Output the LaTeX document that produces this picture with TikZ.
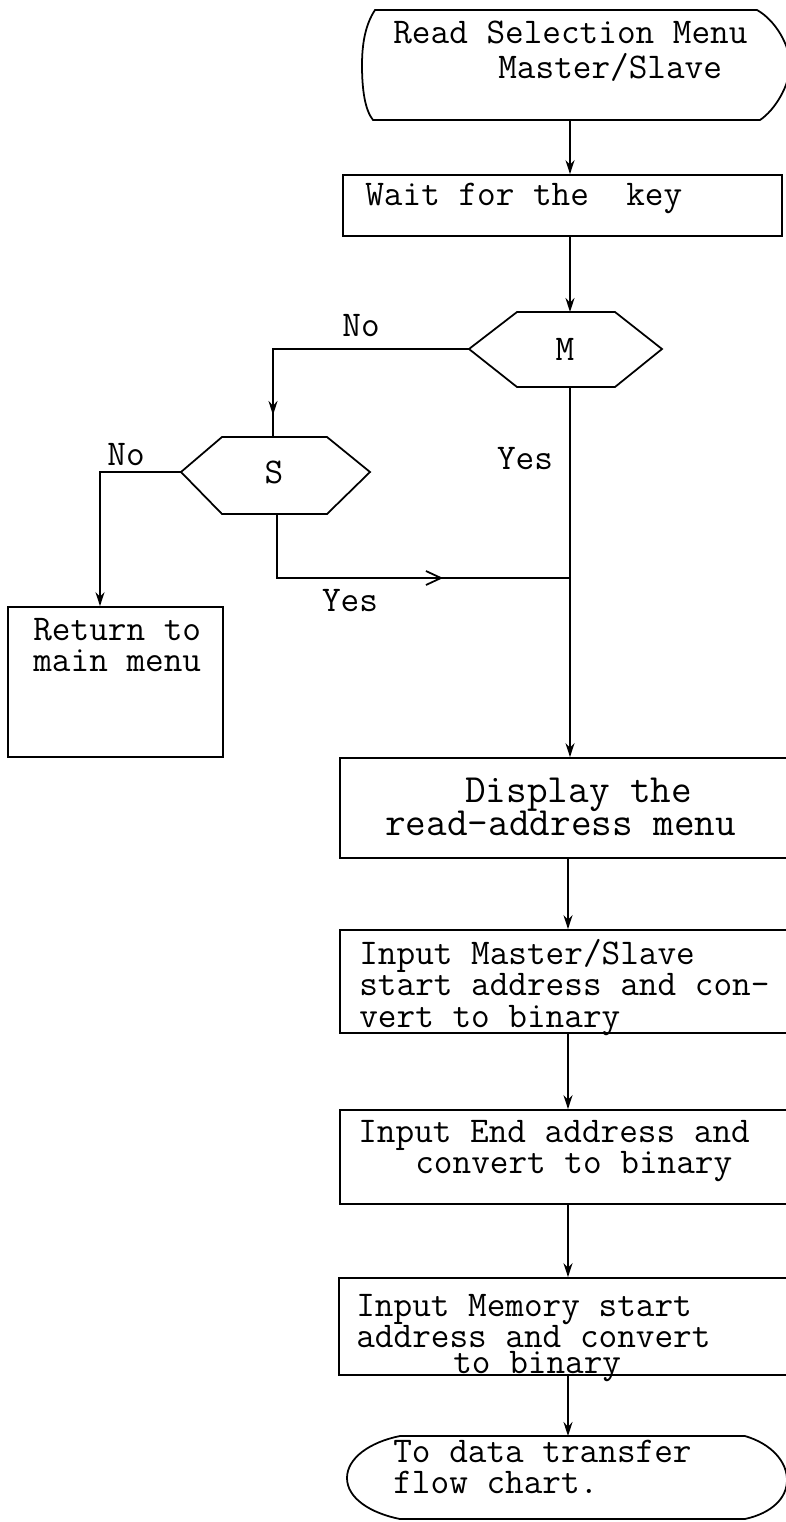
\documentclass[tikz,border=0pt]{standalone}
\usetikzlibrary{arrows.meta,fit,decorations.markings}
\tikzset{
  line/.style={line width=1pt},
  arr/.style={line width=1pt,-{Stealth[length=0.28cm,width=0.18cm]}},
  box/.style={draw,line width=1pt,inner sep=0pt},
  txt/.style={anchor=base west,inner sep=0pt,font=\ttfamily\fontsize{20.6}{17.6}\selectfont},
  lbl/.style={inner sep=0pt,font=\ttfamily\fontsize{20.6}{20.6}\selectfont},
  markdown/.style={postaction={decorate},decoration={markings,
      mark=at position #1 with {\arrow{Stealth[length=0.28cm,width=0.18cm]}}}},
  markright/.style={postaction={decorate},decoration={markings,
      mark=at position #1 with {\arrow{Straight Barb[length=0.3cm,width=0.28cm]}}}}
}
\newcommand\linesA[1]{\begin{tabular}[t]{@{}l@{}}#1\end{tabular}}
\begin{document}
\begin{tikzpicture}[x=0.02cm,y=-0.02cm]
\useasboundingbox (0,0) rectangle (785,1522);
\fill[white] (0,0) rectangle (785,1522);
% top terminal
\draw[line] (375,10) -- (757,10) .. controls (775,20) and (790,45) .. (790,65)
  .. controls (790,85) and (775,110) .. (760,120) -- (373,120)
  .. controls (365,110) and (362,90) .. (362,65)
  .. controls (362,45) and (365,25) .. (375,10) -- cycle;
\coordinate (topb) at (570,120);
\node[txt,font=\ttfamily\fontsize{20.6}{19.9}\selectfont] (t1) at (393,43)
  {\linesA{Read Selection Menu\\ \hspace*{2.1cm}Master/Slave}};
% wait box
\node[box,fit={(343,175) (782,236)}] (wait) {};
\node[txt] (w1) at (365,205) {Wait for the\ \ key};
\coordinate (col) at (570,0);
% M hexagon
\coordinate (Mw) at (469,349);
\coordinate (Mnw) at (517,312);
\coordinate (Mne) at (615,312);
\coordinate (Me) at (662,349);
\coordinate (Mse) at (615,387);
\coordinate (Msw) at (517,387);
\coordinate (Mt) at (570,312);
\coordinate (Mb) at (570,387);
\draw[line] (Mw) -- (Mnw) -- (Mne) -- (Me) -- (Mse) -- (Msw) -- cycle;
\node[lbl] (M) at (565,349) {M};
% S hexagon
\coordinate (Sw) at (181,472);
\coordinate (Snw) at (222,437);
\coordinate (Sne) at (327,437);
\coordinate (Se) at (370,472);
\coordinate (Sse) at (327,514);
\coordinate (Ssw) at (222,514);
\coordinate (St) at (273,437);
\coordinate (Sb) at (277,514);
\draw[line] (Sw) -- (Snw) -- (Sne) -- (Se) -- (Sse) -- (Ssw) -- cycle;
\node[lbl] (S) at (274,472) {S};
% return box
\node[box,fit={(8,607) (223,757)}] (ret) {};
\node[txt,font=\ttfamily\fontsize{20.6}{18.2}\selectfont] (r1) at (33,640)
  {\linesA{Return to\\main menu}};
% display box
\node[box,fit={(340,758) (795,858)}] (disp) {};
\node[txt,font=\ttfamily\fontsize{22.8}{17.6}\selectfont] (d1) at (385,802)
  {\linesA{\hspace*{1.6cm}Display the\\read-address menu}};
% input 1
\node[box,fit={(340,930) (795,1033)}] (in1) {};
\node[txt,font=\ttfamily\fontsize{20.6}{18.2}\selectfont] (i1) at (359,964)
  {\linesA{Input Master/Slave\\start address and con-\\vert to binary}};
% input 2
\node[box,fit={(340,1110) (795,1204)}] (in2) {};
\node[txt,font=\ttfamily\fontsize{20.6}{17.6}\selectfont] (i2) at (358,1142)
  {\linesA{Input End address and\\\hspace*{1.14cm}convert to binary}};
% input 3
\node[box,fit={(339,1278) (795,1375)}] (in3) {};
\node[txt,font=\ttfamily\fontsize{20.6}{17.1}\selectfont] (i3) at (356,1316)
  {\linesA{Input Memory start\\address and convert\\[-0.1cm]\hspace*{1.94cm}to binary}};
% bottom terminal
\draw[line] (400,1436) -- (745,1436) .. controls (772,1444) and (787,1462) .. (787,1480)
  .. controls (787,1498) and (772,1513) .. (745,1519) -- (400,1519)
  .. controls (370,1513) and (347,1498) .. (347,1478)
  .. controls (347,1458) and (370,1442) .. (400,1436) -- cycle;
\coordinate (endt) at (568,1436);
\node[txt,font=\ttfamily\fontsize{20.6}{17.6}\selectfont] (e1) at (393,1462)
  {\linesA{To data transfer\\flow chart.}};
% connectors
\draw[arr] (topb) -- (wait.north -| col);
\draw[arr] (wait.south -| col) -- (Mt);
\draw[line,markdown=-0.44cm] (Mw) -| (St);
\node[lbl] (no1) at (361,326) {No};
\draw[arr] (Sw) -| (ret.north -| 100,0);
\node[lbl] (no2) at (126,455) {No};
\draw[line,markright=-2.54cm] (Sb) |- (570,578);
\node[lbl] (yes2) at (350,601) {Yes};
\draw[arr] (Mb) -- (disp.north -| col);
\node[lbl] (yes1) at (525,459) {Yes};
\coordinate (col2) at (568,0);
\draw[arr] (disp.south -| col2) -- (in1.north -| col2);
\draw[arr] (in1.south -| col2) -- (in2.north -| col2);
\draw[arr] (in2.south -| col2) -- (in3.north -| col2);
\draw[arr] (in3.south -| col2) -- (endt);
\end{tikzpicture}
\end{document}
